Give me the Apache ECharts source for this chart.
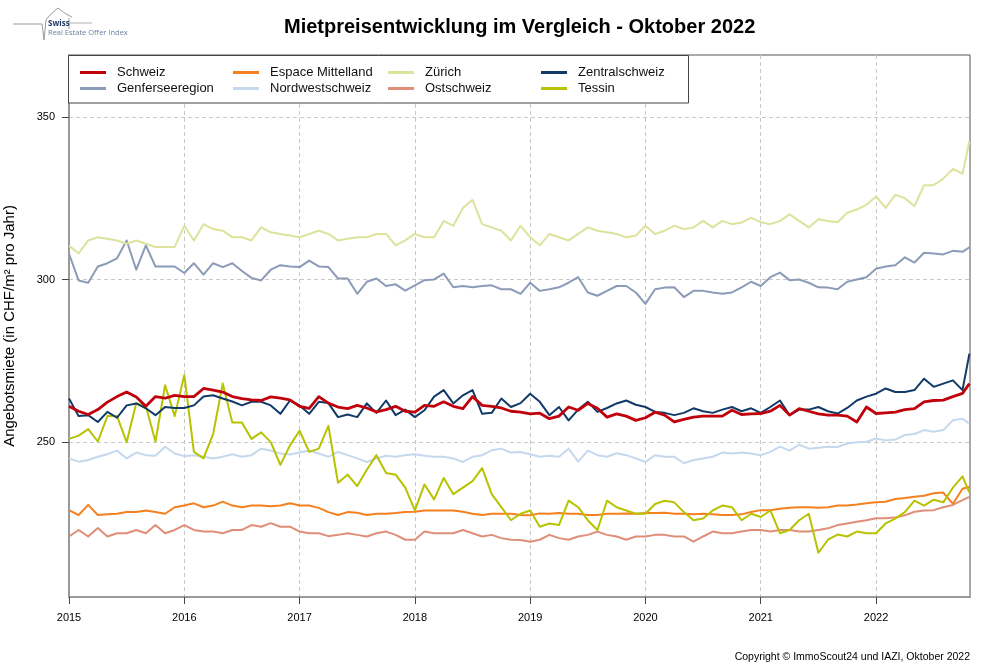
<!DOCTYPE html>
<html lang="de">
<head>
    <meta charset="UTF-8">
    <title>Mietpreisentwicklung im Vergleich</title>
    <script src="https://cdn.jsdelivr.net/npm/echarts@6/dist/echarts.min.js"></script>
    <style>
        html, body { margin: 0; padding: 0; background: #fff; }
    </style>
</head>
<body>
<div id="main" style="width: 1000px; height: 667px;"></div>
<script type="text/javascript">
    // Monatswerte Jan 2015 .. Okt 2022, letzter Punkt = Ende Oktober 2022
    var yearTicks = [2015, 2016, 2017, 2018, 2019, 2020, 2021, 2022];
    var yTicks = [250, 300, 350];

    var schweiz = [
        261, 259.5, 258.5, 260, 262.3, 264, 265.4, 263.9, 261, 264, 263.5, 264.4,
        264, 264, 266.5, 266, 265.4, 264, 263.4, 263, 262.8, 263.9, 263.5, 263,
        261, 260.4, 264, 262, 260.8, 260.3, 261.3, 260.5, 259.3, 260, 261, 259.5,
        259.2, 261.3, 261, 262.4, 261, 260.3, 264, 261.3, 261, 260.5, 259.5, 259.2,
        258.7, 258.9, 257.2, 258, 260.8, 259.8, 261.9, 260.4, 257.7, 258.7, 258, 256.7,
        257.5, 259.2, 258.3, 256.2, 257, 257.7, 258, 258, 258, 259.8, 258.5, 258.7,
        258.8, 259.5, 261.3, 258.3, 260.3, 259.5, 258.7, 258.3, 258.3, 258, 256.2, 260.8,
        258.8, 259, 259.2, 260, 260.3, 262.4, 262.8, 262.9, 264, 265, 268
    ];
    var genf = [
        307.9, 299.7, 299, 304, 305, 306.5, 312, 303, 310.5, 304, 304, 304,
        302, 305, 301.5, 305, 303.8, 305, 302.6, 300.5, 299.7, 303, 304.4, 304,
        303.8, 305.8, 304, 303.8, 300.3, 300.3, 295.6, 299.3, 300.3, 298, 298.5, 296.6,
        298.2, 299.8, 300, 301.8, 297.6, 298, 297.6, 298, 298.2, 297, 297, 295.6,
        299, 296.5, 297, 297.6, 299, 300.7, 296, 295, 296.5, 298, 298, 296,
        292.5, 297, 297.5, 297.6, 294.6, 296.5, 296.5, 296, 295.6, 296, 297.6, 299.3,
        298, 300.7, 302.1, 299.8, 300, 299, 297.6, 297.5, 297, 299.3, 300, 300.7,
        303.3, 304, 304.4, 306.8, 305.2, 308.2, 308, 307.7, 308.8, 308.5, 309.9
    ];
    var espace = [
        229.1, 227.6, 230.7, 227.6, 227.8, 228, 228.5, 228.5, 229, 228.5, 228, 230,
        230.5, 231.2, 230, 230.5, 231.7, 230.5, 230, 230.5, 230.5, 230.3, 230.5, 231.2,
        230.5, 230.5, 229.8, 228.5, 227.6, 228.5, 228.3, 227.6, 228, 228, 228.2, 228.5,
        228.6, 229, 229, 229, 229, 228.6, 228, 227.6, 228, 228, 228, 227.6,
        227.5, 228.1, 228, 228.2, 228, 228, 227.6, 227.6, 228, 228, 228.1, 228,
        228.2, 228.2, 228.3, 228, 228, 227.8, 228, 227.8, 227.6, 227.6, 227.8, 228.5,
        229.1, 229.1, 229.5, 229.8, 230, 230, 229.8, 230, 230.5, 230.5, 230.8, 231.2,
        231.5, 231.7, 232.5, 232.8, 233.2, 233.5, 234.3, 234.5, 231, 235.7, 236.3
    ];
    var nordwest = [
        245, 244, 244.5, 245.5, 246.3, 247.4, 245, 246.8, 246, 245.8, 248.6, 246.5,
        245.7, 246, 245.5, 245, 245.5, 246.3, 245.5, 246, 248, 247.4, 246.5, 246.2,
        246.8, 247.4, 246.5, 245.5, 247, 246, 245, 243.9, 245, 245.8, 245.5, 246,
        246.3, 245.8, 245.5, 245.5, 245, 243.9, 245.5, 246, 247.5, 248, 246.8, 247,
        246.3, 245.5, 245.8, 245.5, 248, 244, 247.4, 246, 245.5, 246.6, 246, 245,
        243.9, 246, 245.5, 245.5, 243.5, 244.5, 245, 245.5, 246.8, 246.5, 246.8, 246.5,
        246, 247, 248.6, 247.4, 249.2, 248, 248.3, 248.6, 248.5, 249.6, 250, 250.1,
        251.1, 250.5, 250.8, 252.2, 252.5, 253.7, 253.2, 253.7, 256.7, 257.2, 255.7
    ];
    var zuerich = [
        310.4, 308, 312, 313, 312.5, 312, 311, 312, 311, 310, 310, 310,
        316.5, 312, 317, 315.5, 315, 313, 313, 312, 316, 314.5, 314, 313.5,
        313, 314, 315, 314, 312, 312.5, 313, 313, 314, 314, 310.5, 312,
        314, 313, 313, 318, 316.5, 322, 324.5, 317, 316, 315, 312, 316.5,
        313, 310.5, 314, 313, 312, 314, 316, 315, 314.5, 314, 313, 313.5,
        316.5, 314, 315, 316.5, 315.5, 316, 318, 316, 318, 317, 317.5, 319,
        317.6, 317, 318, 320, 318, 316, 318.5, 318, 317.6, 320.5, 321.5, 323,
        325.5, 322, 326, 325, 322.5, 329, 329, 331, 334, 332.5, 342.5
    ];
    var ost = [
        221, 223, 221, 223.6, 221, 222, 222, 223, 222, 224.5, 222, 223,
        224.5, 223, 222.5, 222.5, 222, 223, 223, 224.5, 224, 225.1, 224, 224,
        222.5, 222, 222, 221.1, 221.5, 222, 221.5, 221, 222, 222.5, 221.5, 220,
        220, 222.5, 222, 222, 222, 223, 222, 221, 221.5, 220.5, 220, 219.9,
        219.4, 220, 221.5, 220.5, 220, 221, 221.5, 222.5, 221.5, 221, 220, 221,
        221, 221.5, 221.5, 221, 221, 219.4, 221, 222.5, 222, 222, 222.5, 223,
        223, 222.5, 223, 223, 222.5, 222.5, 223, 223.5, 224.5, 225, 225.5, 226,
        226.6, 226.6, 226.8, 227.5, 228.6, 229, 229.1, 230, 230.7, 232.2, 233.2
    ];
    var zentral = [
        263.4, 258, 258.3, 256.2, 259.3, 257.5, 261.3, 261.9, 260.4, 258.3, 260.8, 260.5,
        260.5, 261.3, 264, 264.4, 263.4, 262.5, 261.3, 262.4, 262.4, 261.3, 258.7, 262.8,
        261.3, 258.7, 262.4, 262, 257.7, 258.5, 257.7, 261.9, 259, 262.8, 258.3, 260,
        257.7, 259.8, 264, 266, 261.9, 264.4, 266, 258.7, 259, 263.4, 260.8, 262,
        264.9, 262.4, 258.3, 260.8, 256.7, 260, 262.4, 259.3, 260.5, 261.9, 262.8, 261.5,
        260.8, 259.3, 259, 258.3, 259, 260.4, 259.5, 259, 260, 260.8, 259.5, 260.4,
        259, 260.8, 262.8, 258.3, 260, 260, 260.8, 259.5, 258.8, 260.5, 262.8, 264,
        264.9, 266.5, 265.4, 265.4, 266, 269.5, 267, 268, 269, 266, 277.2
    ];
    var tessin = [
        251, 252, 254, 250.2, 258, 258, 250, 262, 261, 250.2, 267.5, 258,
        270.6, 247, 245, 252.5, 268, 256, 256, 251, 253, 250, 243, 249,
        253.5, 247, 248, 255, 237.5, 240, 236.5, 241.5, 246, 240.5, 240, 236,
        229, 237, 232.4, 239, 234, 236, 238, 242, 234, 230, 226, 228,
        229, 224, 225, 224.5, 232, 230, 226, 223, 232, 230, 229, 228,
        228, 231, 232, 231.5, 228.5, 226, 226.5, 229, 230.5, 230, 226, 228,
        227, 229, 222, 223, 226, 228, 216, 220, 221.6, 221, 222.5, 222,
        222, 225, 226.5, 228.5, 232, 230.5, 232.3, 231.5, 236, 239.5, 234.5
    ];

    // Zeitachse in Dezimaljahren
    var xs = [];
    for (var i = 0; i < 94; i++) {
        xs.push(2015 + i / 12);
    }
    xs.push(2022.81);

    function pairs(values) {
        return values.map(function (v, k) { return [xs[k], v]; });
    }

    var font = "'Liberation Sans', Arial, sans-serif";

    function line(name, values, color, width) {
        return {
            name: name,
            type: 'line',
            data: pairs(values),
            showSymbol: false,
            symbol: 'none',
            color: color,
            lineStyle: { color: color, width: width, join: 'round' },
            emphasis: { disabled: true },
            clip: true
        };
    }

    function legendCol(left, names) {
        return {
            data: names,
            orient: 'vertical',
            left: left,
            top: 66,
            padding: 0,
            itemGap: 3,
            itemWidth: 26,
            itemHeight: 3,
            icon: 'rect',
            selectedMode: false,
            z: 20,
            textStyle: { fontFamily: font, fontSize: 13, color: '#111', padding: [0, 0, 0, 6] }
        };
    }

    var option = {
        animation: false,
        backgroundColor: '#fff',
        title: {
            text: 'Mietpreisentwicklung im Vergleich - Oktober 2022',
            left: 284,
            top: 17,
            padding: 0,
            textStyle: { fontFamily: font, fontSize: 20, fontWeight: 'bold', color: '#000' }
        },
        legend: [
            legendCol(80, ['Schweiz', 'Genferseeregion']),
            legendCol(233, ['Espace Mittelland', 'Nordwestschweiz']),
            legendCol(388, ['Zürich', 'Ostschweiz']),
            legendCol(541, ['Zentralschweiz', 'Tessin'])
        ],
        grid: {
            left: 69,
            right: 30,
            top: 55,
            bottom: 70,
            outerBoundsMode: 'none',
            containLabel: false,
            show: true,
            borderColor: '#555',
            borderWidth: 1
        },
        xAxis: {
            type: 'value',
            min: 2015,
            max: 2022.815,
            interval: 1,
            axisLine: { show: true, lineStyle: { color: '#999', width: 2 } },
            axisTick: { show: true, length: 7, customValues: yearTicks, lineStyle: { color: '#444' } },
            axisLabel: {
                customValues: yearTicks,
                margin: 15,
                fontFamily: font, fontSize: 11, color: '#000',
                formatter: function (v) { return String(Math.round(v)); }
            },
            splitLine: { show: true, lineStyle: { color: '#c8c8c8', type: [4, 3], width: 1 } }
        },
        yAxis: {
            type: 'value',
            min: 202.4,
            max: 369,
            minInterval: 50,
            maxInterval: 50,
            name: 'Angebotsmiete (in CHF/m² pro Jahr)',
            nameLocation: 'middle',
            nameGap: 52,
            nameTextStyle: { fontFamily: font, fontSize: 15, color: '#000' },
            axisLine: { show: true, lineStyle: { color: '#999', width: 2 } },
            axisTick: { show: true, length: 7, customValues: yTicks, lineStyle: { color: '#444' } },
            axisLabel: {
                customValues: yTicks,
                margin: 14,
                fontFamily: font, fontSize: 11, color: '#000'
            },
            splitLine: { show: true, lineStyle: { color: '#c8c8c8', type: [4, 3], width: 1 } }
        },
        graphic: [
            {
                type: 'rect',
                z: 10,
                shape: { x: 68.5, y: 55.5, width: 620, height: 47.5 },
                style: { fill: '#fff', stroke: '#444', lineWidth: 1 }
            },
            {
                type: 'polyline',
                z: 10,
                shape: { points: [[13, 24], [42, 24], [44, 40], [46, 20], [50, 15], [58, 8], [66, 14], [72, 17]] },
                style: { stroke: '#9a9a9a', fill: null, lineWidth: 1 }
            },
            {
                type: 'polyline',
                z: 10,
                shape: { points: [[69, 18], [69, 29]] },
                style: { stroke: '#9a9a9a', fill: null, lineWidth: 1 }
            },
            {
                type: 'polyline',
                z: 10,
                shape: { points: [[70, 23], [92, 23]] },
                style: { stroke: '#b0b0b0', fill: null, lineWidth: 1 }
            },
            {
                type: 'text',
                z: 10,
                left: 48,
                top: 20,
                style: { text: 'Swiss', fontFamily: "'Open Sans', sans-serif", fontSize: 8, fontWeight: 'bold', fill: '#1f3864' }
            },
            {
                type: 'text',
                z: 10,
                left: 48,
                top: 29,
                style: { text: 'Real Estate Offer Index', fontFamily: "'Open Sans', sans-serif", fontSize: 7.5, fill: '#6b7fa3' }
            },
            {
                type: 'text',
                right: 30,
                top: 652,
                style: { text: 'Copyright © ImmoScout24 und IAZI, Oktober 2022', fontFamily: font, fontSize: 10.5, fill: '#000' }
            }
        ],
        series: [
            line('Genferseeregion', genf, '#8c9bb8', 2),
            line('Espace Mittelland', espace, '#f5801f', 2),
            line('Zürich', zuerich, '#dde29c', 2),
            line('Nordwestschweiz', nordwest, '#c5d8ee', 2),
            line('Ostschweiz', ost, '#df8e78', 2),
            line('Tessin', tessin, '#b7c300', 2),
            line('Zentralschweiz', zentral, '#113a68', 2),
            line('Schweiz', schweiz, '#c0000b', 2.8)
        ]
    };

    var myChart = echarts.init(document.getElementById('main'));
    myChart.setOption(option);
</script>
</body>
</html>
